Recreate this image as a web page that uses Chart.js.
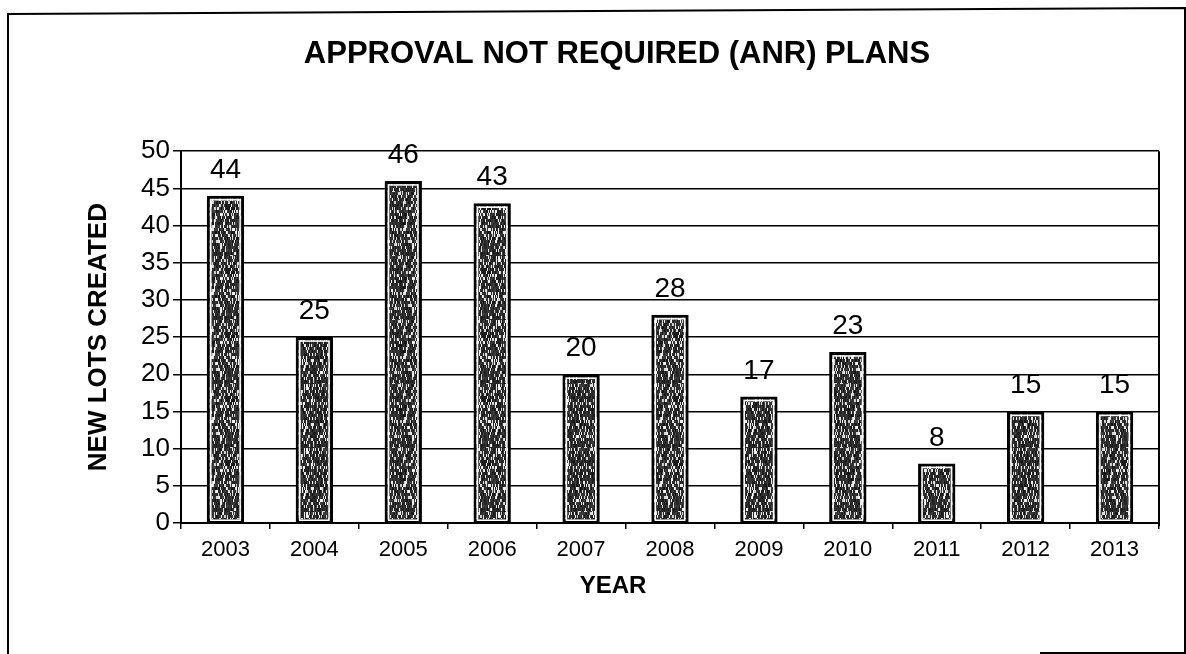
<!DOCTYPE html>
<html>
<head>
<meta charset="utf-8">
<title>ANR plans</title>
<script src="https://cdn.jsdelivr.net/npm/chart.js@4.4.1/dist/chart.umd.min.js"></script>
<style>
  html, body { margin: 0; padding: 0; background: #fff; }
  #wrap { width: 1186px; height: 654px; }
</style>
</head>
<body>
<div id="wrap"><canvas id="myChart" width="1186" height="654"></canvas></div>
<script>
'use strict'

// data
const years = ['2003', '2004', '2005', '2006', '2007', '2008', '2009', '2010', '2011', '2012', '2013']
const newLots = [44, 25, 46, 43, 20, 28, 17, 23, 8, 15, 15]
const yTickValues = [0, 5, 10, 15, 20, 25, 30, 35, 40, 45, 50]

const chartTitle = 'APPROVAL NOT REQUIRED (ANR) PLANS'
const yTitle = 'NEW LOTS CREATED'
const xTitle = 'YEAR'

const FONT = "'Liberation Sans', Arial, sans-serif"

// speckled fill like the printed bars (fixed hash, no randomness)
function makeTexture() {
  const n = 64
  const c = document.createElement('canvas')
  c.width = n
  c.height = n
  const g = c.getContext('2d')
  const img = g.createImageData(n, n)
  for (let y = 0; y < n; y++) {
    for (let x = 0; x < n; x++) {
      // 2x3 cells to get a coarser, streaky grain
      const cx = x >> 1, cy = Math.floor(y / 3)
      let h = (cx * 374761393 + cy * 668265263 + (x & 1) * 97) | 0
      h = Math.imul(h ^ (h >>> 13), 1274126177)
      h = (h ^ (h >>> 16)) >>> 0
      const r = (h % 1000) / 1000
      let v
      if (r > 0.8) v = 200 + (h % 55)
      else v = 20 + (h % 45)
      const i = (y * n + x) * 4
      img.data[i] = v
      img.data[i + 1] = v
      img.data[i + 2] = v
      img.data[i + 3] = 255
    }
  }
  g.putImageData(img, 0, 0)
  return g.createPattern(c, 'repeat')
}

const pageFrame = {
  id: 'pageFrame',
  beforeDraw(chart) {
    const ctx = chart.ctx
    ctx.save()
    ctx.fillStyle = '#fff'
    ctx.fillRect(0, 0, chart.width, chart.height)
    ctx.strokeStyle = '#000'
    ctx.lineWidth = 2
    ctx.beginPath()
    ctx.moveTo(8, 654)
    ctx.lineTo(8, 14)
    ctx.lineTo(1186, 8)
    ctx.moveTo(1185, 8)
    ctx.lineTo(1185, 654)
    ctx.moveTo(1040, 653)
    ctx.lineTo(1186, 653)
    ctx.stroke()
    ctx.restore()
  }
}

const barExtras = {
  id: 'barExtras',
  afterDatasetsDraw(chart) {
    const ctx = chart.ctx
    const area = chart.chartArea
    const meta = chart.getDatasetMeta(0)
    ctx.save()
    // thin white line just inside the black outline
    ctx.strokeStyle = '#fff'
    ctx.lineWidth = 1.5
    meta.data.forEach(bar => {
      const left = bar.x - bar.width / 2
      ctx.strokeRect(left + 4, bar.y + 4, bar.width - 8, bar.base - bar.y - 6)
    })
    // value labels
    ctx.fillStyle = '#000'
    ctx.font = '28px ' + FONT
    ctx.textAlign = 'center'
    ctx.textBaseline = 'alphabetic'
    meta.data.forEach((bar, i) => {
      ctx.fillText(String(newLots[i]), bar.x, bar.y - 18)
    })
    // right edge of plot area
    ctx.strokeStyle = '#000'
    ctx.lineWidth = 2
    ctx.beginPath()
    ctx.moveTo(area.right, area.top)
    ctx.lineTo(area.right, area.bottom + 3)
    ctx.stroke()
    // x axis title
    ctx.font = 'bold 24px ' + FONT
    ctx.textBaseline = 'middle'
    ctx.fillText(xTitle, 613, 586)
    ctx.restore()
  }
}

const ctx = document.getElementById('myChart')
new Chart(ctx, {
  type: 'bar',
  data: {
    labels: years,
    datasets: [{
      data: newLots,
      backgroundColor: makeTexture(),
      borderColor: '#000',
      borderWidth: 3,
      borderSkipped: false,
      barPercentage: 0.42,
      categoryPercentage: 1
    }]
  },
  options: {
    responsive: false,
    animation: false,
    layout: {
      padding: { left: 75, right: 27, top: 0, bottom: 0 }
    },
    plugins: {
      legend: { display: false },
      tooltip: { enabled: false },
      title: {
        display: true,
        text: chartTitle,
        color: '#000',
        font: { family: FONT, size: 31, weight: 'bold' },
        padding: { top: 36, bottom: 78 }
      }
    },
    scales: {
      x: {
        grid: {
          display: true,
          offset: true,
          drawOnChartArea: false,
          drawTicks: true,
          tickLength: 6,
          color: '#000',
          lineWidth: 1.5
        },
        border: { color: '#000', width: 2 },
        ticks: {
          color: '#000',
          padding: 8,
          maxRotation: 0,
          font: { family: FONT, size: 22 }
        },
        afterFit(scale) { scale.height = 131 }
      },
      y: {
        min: 0,
        max: 50,
        afterBuildTicks(scale) {
          scale.ticks = yTickValues.map(v => ({ value: v }))
        },
        grid: {
          color: '#000',
          lineWidth: 1.5,
          tickLength: 8
        },
        border: { color: '#000', width: 2 },
        ticks: {
          color: '#000',
          padding: 3,
          font: { family: FONT, size: 26 }
        },
        title: {
          display: true,
          text: yTitle,
          color: '#000',
          font: { family: FONT, size: 26, weight: 'bold' },
          padding: { top: 8, bottom: 0 }
        },
        afterFit(scale) { scale.width = 106 }
      }
    }
  },
  plugins: [pageFrame, barExtras]
})
</script>
</body>
</html>
